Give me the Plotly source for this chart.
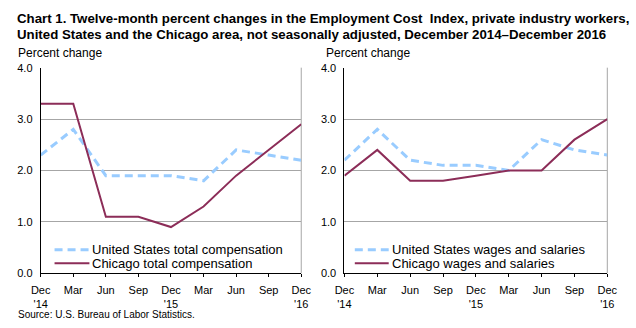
import plotly.graph_objects as go

# Quarterly periods, December 2014 through December 2016
periods = ["Dec<br>'14", "Mar", "Jun", "Sep", "Dec<br>'15", "Mar", "Jun", "Sep", "Dec<br>'16"]
y_ticks = [0, 1, 2, 3, 4]
y_tick_text = ["0.0", "1.0", "2.0", "3.0", "4.0"]

# Twelve-month percent changes, total compensation
us_total = [2.3, 2.8, 1.9, 1.9, 1.9, 1.8, 2.4, 2.3, 2.2]
chicago_total = [3.3, 3.3, 1.1, 1.1, 0.9, 1.3, 1.9, 2.4, 2.9]

# Twelve-month percent changes, wages and salaries
us_wages = [2.2, 2.8, 2.2, 2.1, 2.1, 2.0, 2.6, 2.4, 2.3]
chicago_wages = [1.9, 2.4, 1.8, 1.8, 1.9, 2.0, 2.0, 2.6, 3.0]

W, H = 636, 328
US_COLOR = "#99CCFF"
CHI_COLOR = "#8C2D58"
GRID = "#A6A6A6"
FONT = "Liberation Sans, Arial, sans-serif"
US_LINE = dict(color=US_COLOR, width=3, dash="8px,5px")
CHI_LINE = dict(color=CHI_COLOR, width=2)

xs = list(range(len(periods)))

panels = [
    # (x axis, y axis, series, legend key start px, legend key end px)
    ("x", "y", [("United States total compensation", us_total, US_LINE),
                ("Chicago total compensation", chicago_total, CHI_LINE)], 46, 82),
    ("x2", "y2", [("United States wages and salaries", us_wages, US_LINE),
                  ("Chicago wages and salaries", chicago_wages, CHI_LINE)], 356, 391),
]

fig = go.Figure()
for xa, ya, series, _, _ in panels:
    for name, vals, style in series:
        fig.add_trace(go.Scatter(x=xs, y=vals, mode="lines", name=name, line=style,
                                 xaxis=xa, yaxis=ya, showlegend=False))

y_dom = [(H - 277.5) / H, (H - 64) / H]
left_dom = [31.7 / W, 300.7 / W]
right_dom = [345.3 / W, 616.7 / W]

def xaxis_cfg(dom, anchor):
    return dict(domain=dom, anchor=anchor, range=[0, len(periods) - 1],
                tickmode="array", tickvals=xs, ticktext=periods,
                showgrid=False, zeroline=False, showline=True, linecolor="black", linewidth=1,
                ticks="outside", ticklen=3, tickcolor="black", ticklabelstandoff=3,
                tickfont=dict(family=FONT, size=11, color="black"))

def xaxis_inner(dom, anchor, overlay):
    # upper half of the crossing tick marks
    return dict(domain=dom, anchor=anchor, overlaying=overlay, range=[0, len(periods) - 1],
                tickmode="array", tickvals=xs, showticklabels=False,
                showgrid=False, zeroline=False, showline=False,
                ticks="inside", ticklen=3, tickcolor="black")

def yaxis_cfg(anchor):
    return dict(domain=y_dom, anchor=anchor, range=[0, 4],
                tickmode="array", tickvals=y_ticks, ticktext=y_tick_text,
                showgrid=True, gridcolor=GRID, gridwidth=1, zeroline=False,
                showline=True, linecolor="black", linewidth=1, ticks="", ticklabelstandoff=5,
                tickfont=dict(family=FONT, size=11, color="black"))

fig.update_layout(
    width=W, height=H,
    margin=dict(l=0, r=0, t=0, b=0),
    paper_bgcolor="white", plot_bgcolor="white",
    xaxis=xaxis_cfg(left_dom, "y"),
    xaxis2=xaxis_cfg(right_dom, "y2"),
    xaxis3=xaxis_inner(left_dom, "y", "x"),
    xaxis4=xaxis_inner(right_dom, "y2", "x2"),
    yaxis=yaxis_cfg("x"),
    yaxis2=yaxis_cfg("x2"),
    showlegend=False,
)

# Gray frame on the right edge of each panel
for xr, yr in (("x domain", "y domain"), ("x2 domain", "y2 domain")):
    fig.add_shape(type="line", xref=xr, yref=yr, x0=1, x1=1, y0=0, y1=1,
                  line=dict(color=GRID, width=1), layer="below")

# Legend keys inside each panel
for _, _, series, key_x0, key_x1 in panels:
    for i, (name, _, style) in enumerate(series):
        ky = (H - (253 + 14 * i)) / H
        fig.add_shape(type="line", xref="paper", yref="paper",
                      x0=key_x0 / W, x1=key_x1 / W, y0=ky, y1=ky, line=style)
        fig.add_annotation(text=name, xref="paper", yref="paper",
                           x=(key_x1 + 1) / W, y=ky, xanchor="left", yanchor="middle",
                           showarrow=False, font=dict(family=FONT, size=13, color="black"))

title_lines = [
    "Chart 1. Twelve-month percent changes in the Employment Cost  Index, private industry workers,",
    "United States and the Chicago area, not seasonally adjusted, December 2014\u2013December 2016",
]
for i, line in enumerate(title_lines):
    fig.add_annotation(text="<b>" + line + "</b>", xref="paper", yref="paper",
                       x=5 / W, y=(H - 12.5 - i * 17) / H, xanchor="left", yanchor="middle",
                       showarrow=False, font=dict(family=FONT, size=13.25, color="black"))

for px in (6, 324):
    fig.add_annotation(text="Percent change", xref="paper", yref="paper",
                       x=px / W, y=(H - 49) / H, xanchor="left", yanchor="middle",
                       showarrow=False, font=dict(family=FONT, size=12, color="black"))

fig.add_annotation(text="Source: U.S. Bureau of Labor Statistics.", xref="paper", yref="paper",
                   x=6 / W, y=(H - 320) / H, xanchor="left", yanchor="middle",
                   showarrow=False, font=dict(family=FONT, size=10, color="black"))

fig.write_html("out.html")
